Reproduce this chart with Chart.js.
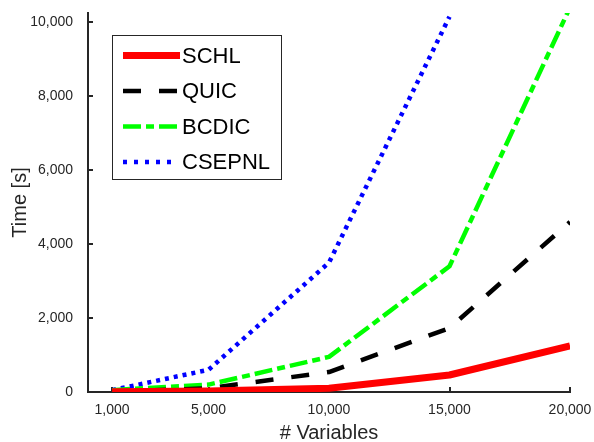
<!DOCTYPE html>
<html><head><meta charset="utf-8">
<script src="https://cdn.jsdelivr.net/npm/chart.js@4/dist/chart.umd.min.js"></script>
<style>html,body{margin:0;padding:0;background:#fff}</style>
</head><body>
<canvas id="c" width="594" height="442"></canvas>
<script>
const variables = [1000, 5000, 10000, 15000, 20000];
const schl = [5, 30, 100, 460, 1250];
const quic = [10, 100, 540, 1730, 4600];
const bcdic = [50, 200, 950, 3400, 10400];
const csepnl = [50, 600, 3500, 10150];
const xTicks = [1000, 5000, 10000, 15000, 20000];
const yTicks = [0, 2000, 4000, 6000, 8000, 10000];
const seriesNames = ['SCHL', 'QUIC', 'BCDIC', 'CSEPNL'];

const FONT = '"Liberation Sans", Arial, sans-serif';
const AX = '#262626';
const fmt = v => Number(v).toLocaleString('en-US');
const pts = arr => arr.map((y, i) => ({x: variables[i], y}));

const styles = [
  {color: '#ff0000', width: 7, dash: [], legendDash: []},
  {color: '#000000', width: 4.5, dash: [18, 18], legendDash: [18, 18]},
  {color: '#00ff00', width: 4.5, dash: [18, 5, 8, 5], legendDash: [18, 5, 8, 5]},
  {color: '#0000ff', width: 4.5, dash: [4, 5], legendDash: [4, 7]}
];
const seriesData = [schl, quic, bcdic, csepnl];

const datasets = seriesData.map((d, i) => ({
  label: seriesNames[i],
  data: pts(d),
  borderColor: styles[i].color,
  backgroundColor: styles[i].color,
  borderWidth: styles[i].width,
  borderDash: styles[i].dash,
  borderCapStyle: 'butt',
  borderJoinStyle: 'round',
  pointRadius: 0,
  tension: 0,
  fill: false
}));

const extras = {
  id: 'extras',
  beforeDatasetsDraw(chart) {
    const ctx = chart.ctx, xs = chart.scales.x, ys = chart.scales.y;
    const ca = chart.chartArea;
    ctx.save();
    ctx.strokeStyle = AX; ctx.lineWidth = 2;
    ctx.beginPath();
    xTicks.forEach(v => { const px = Math.round(xs.getPixelForValue(v)); ctx.moveTo(px, ca.bottom); ctx.lineTo(px, ca.bottom - 5); });
    yTicks.forEach(v => { const py = Math.round(ys.getPixelForValue(v)); ctx.moveTo(ca.left, py); ctx.lineTo(ca.left + 5, py); });
    ctx.stroke();
    ctx.restore();
  },
  afterDatasetsDraw(chart) {
    const ctx = chart.ctx;
    const bx = 112, by = 35, bw = 169, bh = 144;
    ctx.save();
    ctx.fillStyle = '#fff';
    ctx.fillRect(bx, by, bw, bh);
    ctx.strokeStyle = AX; ctx.lineWidth = 1;
    ctx.strokeRect(bx + 0.5, by + 0.5, bw, bh);
    const rows = [55.5, 91, 126.5, 162];
    seriesNames.forEach((name, i) => {
      const y = rows[i];
      ctx.beginPath();
      ctx.strokeStyle = styles[i].color;
      ctx.lineWidth = styles[i].width;
      ctx.lineCap = 'butt';
      ctx.setLineDash(styles[i].legendDash);
      ctx.moveTo(123, y); ctx.lineTo(i === 0 ? 180 : 177, y);
      ctx.stroke();
      ctx.setLineDash([]);
      ctx.fillStyle = '#000';
      ctx.font = '22px ' + FONT;
      ctx.textBaseline = 'middle';
      ctx.textAlign = 'left';
      ctx.fillText(name, 182, y + 1);
    });
    ctx.restore();
  }
};

new Chart(document.getElementById('c'), {
  type: 'line',
  data: {datasets},
  plugins: [extras],
  options: {
    responsive: false,
    animation: false,
    devicePixelRatio: 1,
    layout: {padding: {left: 0, right: 24, top: 13, bottom: 0}},
    plugins: {legend: {display: false}, tooltip: {enabled: false}},
    scales: {
      x: {
        type: 'linear', min: 0, max: 20000,
        afterBuildTicks: s => { s.ticks = xTicks.map(v => ({value: v})); },
        afterFit: s => { s.height = 50; s.paddingLeft = 0; s.paddingRight = 0; },
        grid: {display: false},
        border: {display: true, color: AX, width: 2},
        ticks: {color: AX, font: {family: FONT, size: 14}, padding: 2, maxRotation: 0, autoSkip: false, callback: v => fmt(v)},
        title: {display: true, text: '# Variables', color: AX, font: {family: FONT, size: 20, lineHeight: 0.9}, padding: 0}
      },
      y: {
        type: 'linear', min: 0, max: 10250,
        afterBuildTicks: s => { s.ticks = yTicks.map(v => ({value: v})); },
        afterFit: s => { s.width = 88; s.paddingTop = 0; s.paddingBottom = 0; },
        grid: {display: false},
        border: {display: true, color: AX, width: 2},
        ticks: {color: AX, font: {family: FONT, size: 14}, padding: 7, autoSkip: false, callback: v => fmt(v)},
        title: {display: true, text: 'Time [s]', color: AX, font: {family: FONT, size: 20, lineHeight: 1.2}, padding: {top: 8, bottom: 0}}
      }
    }
  }
});
</script>
</body></html>
